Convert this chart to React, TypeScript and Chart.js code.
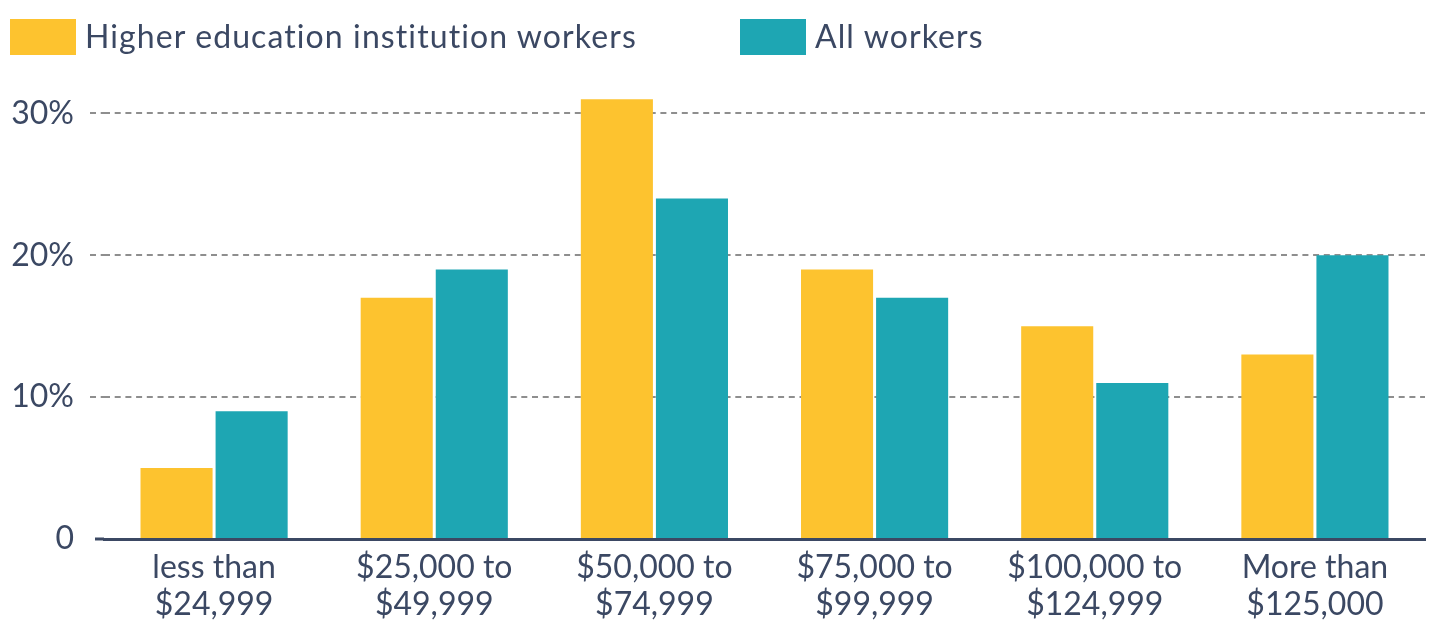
import React, { useEffect, useRef } from "react";
import { Chart, registerables } from "chart.js";

Chart.register(...registerables);

const categories: string[][] = [
  ["less than", "$24,999"],
  ["$25,000 to", "$49,999"],
  ["$50,000 to", "$74,999"],
  ["$75,000 to", "$99,999"],
  ["$100,000 to", "$124,999"],
  ["More than", "$125,000"],
];
const seriesNames = ["Higher education institution workers", "All workers"];
const higherEdValues = [5, 17, 31, 19, 15, 13];
const allWorkersValues = [9, 19, 24, 17, 11, 20];
const yTickValues = [0, 10, 20, 30];
const yTickLabels = ["0", "10%", "20%", "30%"];

const YELLOW = "#FDC32F";
const TEAL = "#1EA6B3";
const TEXT = "#3B4863";
const GRID = "#8E8E8E";
const FONT = "Lato, 'Open Sans', sans-serif";

export default function App() {
  const canvasRef = useRef<HTMLCanvasElement | null>(null);

  useEffect(() => {
    const canvas = canvasRef.current;
    if (!canvas) return;
    const chart = new Chart(canvas, {
      type: "bar",
      data: {
        labels: categories,
        datasets: [
          {
            label: seriesNames[0],
            data: higherEdValues,
            backgroundColor: YELLOW,
            borderWidth: 0,
            barPercentage: 0.96,
            categoryPercentage: 0.682,
          },
          {
            label: seriesNames[1],
            data: allWorkersValues,
            backgroundColor: TEAL,
            borderWidth: 0,
            barPercentage: 0.96,
            categoryPercentage: 0.682,
          },
        ],
      },
      options: {
        animation: false,
        responsive: false,
        maintainAspectRatio: false,
        layout: { padding: { top: 85, right: 4, left: 0, bottom: 0 } },
        plugins: {
          legend: { display: false },
          tooltip: { enabled: false },
        },
        scales: {
          x: {
            grid: { display: false, drawTicks: false },
            border: { display: true, color: TEXT, width: 3 },
            ticks: {
              color: TEXT,
              padding: 10,
              maxRotation: 0,
              autoSkip: false,
              font: { family: FONT, size: 32, lineHeight: 1.15 },
            },
            afterFit: (scale: any) => {
              scale.height = 82;
            },
          },
          y: {
            min: 0,
            max: 32,
            border: { display: false, dash: [6, 4.7] },
            grid: {
              color: (ctx: any) => (ctx.tick && ctx.tick.value === 0 ? "rgba(0,0,0,0)" : GRID),
              lineWidth: 2,
              drawTicks: true,
              tickLength: 14,
              tickColor: (ctx: any) => (ctx.tick && ctx.tick.value === 0 ? "rgba(0,0,0,0)" : GRID),
              tickWidth: 2,
              tickBorderDash: [6, 4.7],
            },
            ticks: {
              color: TEXT,
              padding: 16,
              font: { family: FONT, size: 32 },
              callback: (value: any) => {
                const i = yTickValues.indexOf(Number(value));
                return i >= 0 ? yTickLabels[i] : "";
              },
            },
            afterBuildTicks: (scale: any) => {
              scale.ticks = yTickValues.map((v) => ({ value: v }));
            },
            afterFit: (scale: any) => {
              scale.width = 104;
            },
          },
        },
      },
      plugins: [
        {
          id: "axisStub",
          afterDraw: (c: any) => {
            const ctx = c.ctx;
            const area = c.chartArea;
            ctx.save();
            ctx.strokeStyle = TEXT;
            ctx.lineWidth = 3;
            ctx.beginPath();
            ctx.moveTo(95, c.scales.y.getPixelForValue(0));
            ctx.lineTo(area.left, c.scales.y.getPixelForValue(0));
            ctx.stroke();
            ctx.restore();
          },
        },
      ],
    });
    return () => chart.destroy();
  }, []);

  const legendItems = [
    { name: seriesNames[0], color: YELLOW, left: 10 },
    { name: seriesNames[1], color: TEAL, left: 740 },
  ];

  return (
    <div
      style={{
        position: "fixed",
        left: 0,
        top: 0,
        width: 1429,
        height: 621,
        background: "#ffffff",
        overflow: "hidden",
      }}
    >
      <canvas
        ref={canvasRef}
        width={1429}
        height={621}
        style={{ position: "absolute", left: 0, top: 0, width: 1429, height: 621 }}
      />
      {legendItems.map((item) => (
        <div
          key={item.name}
          style={{
            position: "absolute",
            left: item.left,
            top: 19,
            height: 36,
            display: "flex",
            alignItems: "center",
            fontFamily: FONT,
            fontSize: 32,
            letterSpacing: "1.1px",
            color: TEXT,
            whiteSpace: "nowrap",
          }}
        >
          <span
            style={{
              display: "inline-block",
              width: 66,
              height: 36,
              background: item.color,
              marginRight: 9,
            }}
          />
          <span style={{ lineHeight: "36px", marginTop: -3 }}>{item.name}</span>
        </div>
      ))}
    </div>
  );
}
